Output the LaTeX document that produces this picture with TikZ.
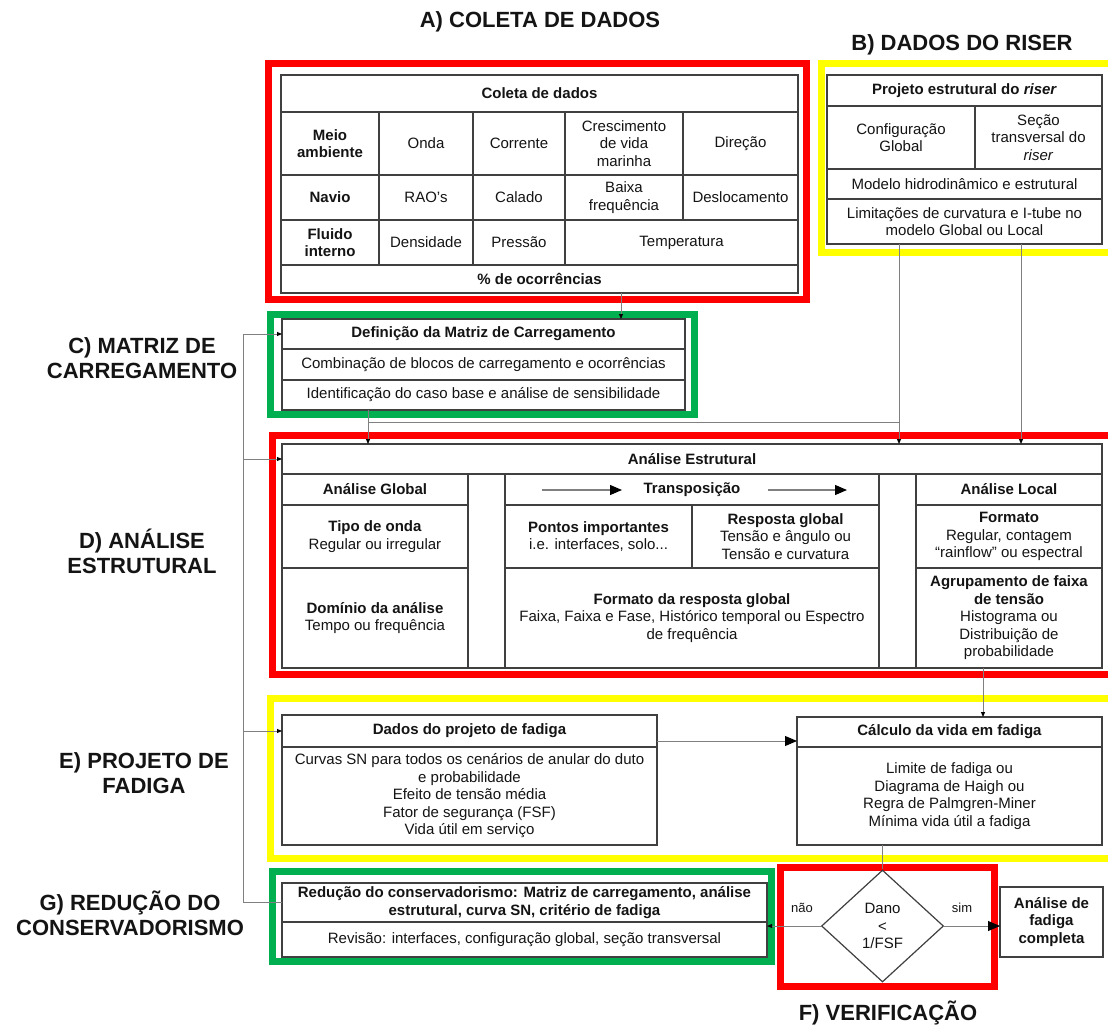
\documentclass[tikz,border=0pt]{standalone}
\usepackage{fontspec}
\setmainfont{Liberation Sans}
\usetikzlibrary{shapes.geometric,arrows.meta,calc}
\definecolor{fred}{RGB}{255,0,0}
\definecolor{fyel}{RGB}{255,255,0}
\definecolor{fgrn}{RGB}{0,176,80}
\definecolor{bord}{RGB}{64,64,64}
\definecolor{cgray}{RGB}{128,128,128}
\definecolor{txt}{RGB}{20,20,20}
\tikzset{
 cellst/.style={draw=bord, line width=1.2pt, rectangle, inner sep=0pt, outer sep=0pt, align=center, font=\fontsize{15}{17.5}\selectfont, text=txt},
 frm/.style={line width=7pt},
 conn/.style={draw=cgray, line width=0.9pt},
 sarr/.style={-{Triangle[length=5pt,width=4pt,color=black]}},
 barr/.style={-{Triangle[length=12pt,width=10pt,color=black]}},
 biglbl/.style={font=\fontsize{22}{25}\selectfont\bfseries, align=center, text=txt},
 smalllbl/.style={font=\fontsize{13}{15}\selectfont, text=txt},
}
\newcommand\mycell[6]{\node[cellst, minimum width={(#4-#2)*1pt}, minimum height={(#5-#3)*1pt}] (#1) at ({(#2+#4)/2},{(#3+#5)/2}) {#6};}
\newcommand\myframe[6]{\node[draw=#6, frm, inner sep=0pt, outer sep=0pt, minimum width={(#4-#2-7)*1pt}, minimum height={(#5-#3-7)*1pt}] (#1) at ({(#2+#4)/2},{(#3+#5)/2}) {};}
\begin{document}
\begin{tikzpicture}[x=1pt,y=-1pt]
\clip (0,0) rectangle (1108,1030);
\fill[white] (0,0) rectangle (1108,1030);

% frames
\myframe{fA}{265}{60}{810}{303}{fred}
\myframe{fB}{818}{60}{1125}{256}{fyel}
\myframe{fC}{267}{311}{698}{418}{fgrn}
\myframe{fD}{269}{432}{1125}{678}{fred}
\myframe{fE}{267}{695}{1125}{862}{fyel}
\myframe{fF}{777}{864}{998}{990}{fred}
\myframe{fG}{269}{868}{775}{965}{fgrn}

% titles
\node[biglbl] (ta) at (540,22) {A) COLETA DE DADOS};
\node[biglbl] (tb) at (962,45) {B) DADOS DO RISER};
\node[biglbl] (lc) at (142,358) {C) MATRIZ DE\\CARREGAMENTO};
\node[biglbl] (ld) at (142,551) {D) ANÁLISE\\ESTRUTURAL};
\node[biglbl] (le) at (144,773) {E) PROJETO DE\\FADIGA};
\node[biglbl] (lg) at (130,913) {G) REDUÇÃO DO\\CONSERVADORISMO};
\node[biglbl] (lf) at (888,1013) {F) VERIFICAÇÃO};

% A table
\mycell{a0}{281}{75}{798}{112}{\textbf{Coleta de dados}}
\mycell{a11}{281}{112}{379}{175}{\textbf{Meio}\\\textbf{ambiente}}
\mycell{a12}{379}{112}{473}{175}{Onda}
\mycell{a13}{473}{112}{565}{175}{Corrente}
\mycell{a14}{565}{112}{683}{175}{Crescimento\\de vida\\marinha}
\mycell{a15}{683}{112}{798}{175}{Direção}
\mycell{a21}{281}{175}{379}{220}{\textbf{Navio}}
\mycell{a22}{379}{175}{473}{220}{RAO’s}
\mycell{a23}{473}{175}{565}{220}{Calado}
\mycell{a24}{565}{175}{683}{220}{Baixa\\frequência}
\mycell{a25}{683}{175}{798}{220}{Deslocamento}
\mycell{a31}{281}{220}{379}{265}{\textbf{Fluido}\\\textbf{interno}}
\mycell{a32}{379}{220}{473}{265}{Densidade}
\mycell{a33}{473}{220}{565}{265}{Pressão}
\mycell{a34}{565}{220}{798}{265}{Temperatura}
\mycell{a4}{281}{265}{798}{293}{\textbf{\% de ocorrências}}

% B table
\mycell{b0}{827}{75}{1102}{106}{\textbf{Projeto estrutural do \textit{riser}}}
\mycell{b11}{827}{106}{975}{169}{Configuração\\Global}
\mycell{b12}{975}{106}{1102}{169}{Seção\\transversal do\\\textit{riser}}
\mycell{b2}{827}{169}{1102}{199}{Modelo hidrodinâmico e estrutural}
\mycell{b3}{827}{199}{1102}{244}{Limitações de curvatura e I-tube no\\modelo Global ou Local}

% C table
\mycell{c0}{282}{319}{685}{349}{\textbf{Definição da Matriz de Carregamento}}
\mycell{c1}{282}{349}{685}{380}{Combinação de blocos de carregamento e ocorrências}
\mycell{c2}{282}{380}{685}{410}{Identificação do caso base e análise de sensibilidade}

% D table
\mycell{d0}{282}{444}{1102}{474}{\textbf{Análise Estrutural}}
\mycell{dg1}{282}{474}{468}{505}{\textbf{Análise Global}}
\mycell{dgap1}{468}{474}{505}{668}{}
\mycell{dt1}{505}{474}{879}{505}{\textbf{Transposição}}
\mycell{dgap2}{879}{474}{916}{668}{}
\mycell{dl1}{916}{474}{1102}{505}{\textbf{Análise Local}}
\mycell{dg2}{282}{505}{468}{568}{\textbf{Tipo de onda}\\Regular ou irregular}
\mycell{dt2a}{505}{505}{692}{568}{\textbf{Pontos importantes}\\i.e. interfaces, solo...}
\mycell{dt2b}{692}{505}{879}{568}{\textbf{Resposta global}\\Tensão e ângulo ou\\Tensão e curvatura}
\mycell{dl2}{916}{505}{1102}{568}{\textbf{Formato}\\Regular, contagem\\“rainflow” ou espectral}
\mycell{dg3}{282}{568}{468}{668}{\textbf{Domínio da análise}\\Tempo ou frequência}
\mycell{dt3}{505}{568}{879}{668}{\textbf{Formato da resposta global}\\Faixa, Faixa e Fase, Histórico temporal ou Espectro\\de frequência}
\mycell{dl3}{916}{568}{1102}{668}{\textbf{Agrupamento de faixa}\\\textbf{de tensão}\\Histograma ou\\Distribuição de\\probabilidade}

% transposition arrows
\coordinate (t1) at (542,490);
\coordinate (t2) at (622,490);
\coordinate (t3) at (768,490);
\coordinate (t4) at (847,490);
\draw[conn, line width=1.1pt, barr] (t1) -- (t2);
\draw[conn, line width=1.1pt, barr] (t3) -- (t4);

% E tables
\mycell{e0}{282}{715}{657}{747}{\textbf{Dados do projeto de fadiga}}
\mycell{e1}{282}{747}{657}{845}{Curvas SN para todos os cenários de anular do duto\\e probabilidade\\Efeito de tensão média\\Fator de segurança (FSF)\\Vida útil em serviço}
\mycell{f0}{797}{717}{1102}{747}{\textbf{Cálculo da vida em fadiga}}
\mycell{f1}{797}{747}{1102}{845}{Limite de fadiga ou\\Diagrama de Haigh ou\\Regra de Palmgren-Miner\\Mínima vida útil a fadiga}

% G table
\mycell{g1}{282}{883}{767}{922}{\textbf{Redução do conservadorismo: Matriz de carregamento, análise}\\\textbf{estrutural, curva SN, critério de fadiga}}
\mycell{g2}{282}{922}{767}{957}{Revisão: interfaces, configuração global, seção transversal}

% F verification
\node[draw=bord, line width=1.2pt, diamond, minimum width=122pt, minimum height=112pt, inner sep=0pt, align=center, font=\fontsize{15}{17.5}\selectfont, text=txt] (dm) at (882.5,926) {Dano\\<\\1/FSF};
\mycell{fin}{1000}{887}{1103}{957}{\textbf{Análise de}\\\textbf{fadiga}\\\textbf{completa}}
\node[smalllbl] (nao) at (802,908) {não};
\node[smalllbl] (sim) at (962,908) {sim};

% connectors
\coordinate (lp) at (243,0);
\draw[conn] (g1.west) -- (g1.west -| lp) -- (c0.west -| lp);
\draw[conn,sarr] (c0.west -| lp) -- (c0.west);
\draw[conn,sarr] (d0.west -| lp) -- (d0.west);
\draw[conn,sarr] (e0.west -| lp) -- (e0.west);

\coordinate (acx) at (621,0);
\draw[conn,sarr] (a4.south -| acx) -- (c0.north -| acx);

\coordinate (bx1) at (899,0);
\coordinate (bx2) at (1021,0);
\draw[conn,sarr] (b3.south -| bx1) -- (d0.north -| bx1);
\draw[conn,sarr] (b3.south -| bx2) -- (d0.north -| bx2);

\coordinate (cx) at (368,0);
\coordinate (hy) at (0,422);
\draw[conn,sarr] (c2.south -| cx) -- (d0.north -| cx);
\draw[conn] (cx |- hy) -- (bx1 |- hy);

\coordinate (dx) at (983,0);
\draw[conn,sarr] (dl3.south -| dx) -- (f0.north -| dx);

\coordinate (ay) at (0,741);
\draw[conn,barr] (e0.east |- ay) -- (f0.west |- ay);

\draw[conn] (f1.south -| dm.north) -- (dm.north);
\draw[conn,barr] (dm.east) -- (dm.east -| fin.west);
\draw[conn,sarr] (dm.west) -- (dm.west -| g2.east);
\end{tikzpicture}
\end{document}
